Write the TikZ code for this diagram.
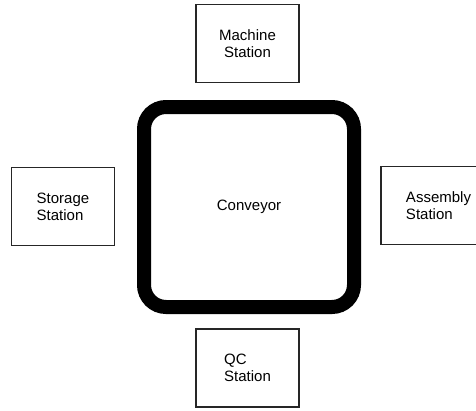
\documentclass[tikz,border=0pt]{standalone}
\usepackage{fontspec}
\setmainfont{Liberation Sans}
\usetikzlibrary{positioning}
\begin{document}
\begin{tikzpicture}[x=1pt,y=-1pt]
    \tikzstyle{every node} = [font=\fontsize{15}{17}\selectfont]
    \tikzstyle{stationbox} = [draw=black!85, line width=1.3pt, rectangle, minimum width=103pt, minimum height=78pt, align=left, inner sep=0pt]
    \tikzstyle{conveyorbox} = [draw, line width=14pt, rectangle, rounded corners=22pt, minimum width=210pt, minimum height=200pt]
    \useasboundingbox (0,0) rectangle (476,410);
    % place nodes
    \node[conveyorbox](conveyor) at (249,207){Conveyor};
    \node[stationbox,align=center](machine) at (247.5,43.5){Machine\\Station};
    \node[stationbox](storage) at (63,206.5){Storage\\Station};
    \node[stationbox,minimum width=115pt](assembly) at (438.5,205.5){Assembly\\Station};
    \node[stationbox](qc) at (247.5,368){QC\\Station};
\end{tikzpicture}
\end{document}
